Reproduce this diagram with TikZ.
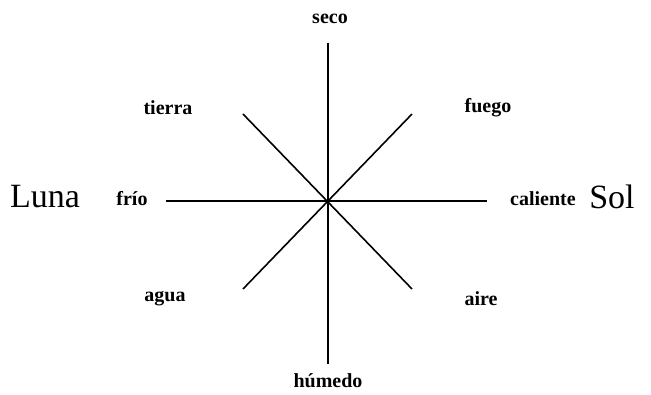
\documentclass[tikz,border=0pt]{standalone}
\usepackage{fontspec}
\setmainfont{Liberation Serif}
\begin{document}
\begin{tikzpicture}[x=1pt,y=-1pt,
  axis/.style={line width=1.6pt},
  lbl/.style={font=\fontsize{20}{24}\selectfont\bfseries},
  big/.style={font=\fontsize{34}{38}\selectfont}]
\useasboundingbox (0,0) rectangle (651,395);
\coordinate (c) at (328,201);
\coordinate (n) at (328,43);
\coordinate (s) at (328,364);
\coordinate (w) at (166,201);
\coordinate (e) at (487,201);
\coordinate (nw) at (243,114);
\coordinate (ne) at (412,114);
\coordinate (sw) at (243,289);
\coordinate (se) at (412,289);
\draw[axis] (n) -- (s);
\draw[axis] (w) -- (e);
\draw[axis] (nw) -- (se);
\draw[axis] (ne) -- (sw);
\node[lbl] (seco) at (330,19) {seco};
\node[lbl] (humedo) at (328,381) {húmedo};
\node[lbl] (tierra) at (168,108) {tierra};
\node[lbl] (fuego) at (488,108) {fuego};
\node[lbl] (agua) at (165,299) {agua};
\node[lbl] (aire) at (481,299) {aire};
\node[lbl] (frio) at (132,199) {frío};
\node[lbl] (caliente) at (543,199) {caliente};
\node[big] (luna) at (45,197) {Luna};
\node[big] (sol) at (612,197) {Sol};
\end{tikzpicture}
\end{document}
